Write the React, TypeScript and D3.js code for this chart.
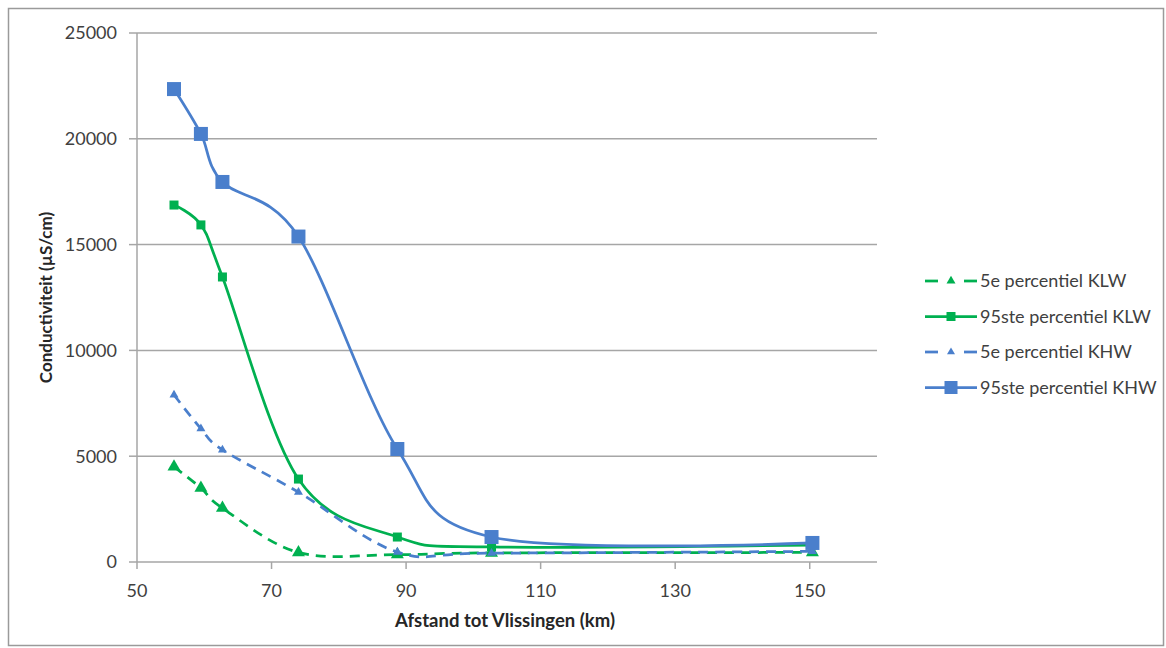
import React from "react";
import * as d3 from "d3";

const distances = [55.5, 59.5, 62.7, 74, 88.7, 102.7, 150.4];
const klw5 = [4500, 3500, 2550, 450, 350, 430, 450];
const klw95 = [16870, 15930, 13470, 3920, 1180, 710, 800];
const khw5 = [7900, 6300, 5300, 3300, 470, 420, 500];
const khw95 = [22350, 20230, 17960, 15380, 5340, 1180, 900];
const xTicks = [50, 70, 90, 110, 130, 150];
const yTicks = [0, 5000, 10000, 15000, 20000, 25000];
const seriesNames = ["5e percentiel KLW", "95ste percentiel KLW", "5e percentiel KHW", "95ste percentiel KHW"];

const GREEN = "#00b050";
const BLUE = "#4a7fcc";
const FONT = "Lato, 'Open Sans', sans-serif";

type Series = {
  name: string;
  values: number[];
  color: string;
  dashed: boolean;
  marker: "tri" | "sq";
  size: number;
  legendSize: number;
};

const series: Series[] = [
  { name: seriesNames[0], values: klw5, color: GREEN, dashed: true, marker: "tri", size: 13, legendSize: 9 },
  { name: seriesNames[1], values: klw95, color: GREEN, dashed: false, marker: "sq", size: 9, legendSize: 9 },
  { name: seriesNames[2], values: khw5, color: BLUE, dashed: true, marker: "tri", size: 9, legendSize: 8 },
  { name: seriesNames[3], values: khw95, color: BLUE, dashed: false, marker: "sq", size: 14, legendSize: 13 },
];

function Marker({ x, y, s, type, color }: { x: number; y: number; s: number; type: string; color: string }) {
  if (type === "sq") {
    return <rect x={x - s / 2} y={y - s / 2} width={s} height={s} fill={color} />;
  }
  const h = (s * Math.sqrt(3)) / 2;
  const d = `M${x},${y - (2 * h) / 3}L${x + s / 2},${y + h / 3}L${x - s / 2},${y + h / 3}Z`;
  return <path d={d} fill={color} />;
}

export default function App() {
  const x = d3.scaleLinear().domain([50, 160]).range([137, 877]);
  const y = d3.scaleLinear().domain([0, 25000]).range([562, 33]);
  const line = d3
    .line<[number, number]>()
    .x((d) => x(d[0]))
    .y((d) => y(d[1]))
    .curve(d3.curveCardinal.tension(0));

  const legendX = 925;
  const legendY0 = 281;
  const legendDy = 35.5;

  return (
    <svg
      width={1166}
      height={648}
      style={{ position: "absolute", left: 0, top: 0, display: "block", background: "#fff" }}
      fontFamily={FONT}
    >
      <rect x={8.5} y={8.5} width={1155} height={637} fill="#fff" stroke="#9a9a9a" strokeWidth={1.5} />
      {/* gridlines */}
      {yTicks.slice(1).map((t) => (
        <line key={t} x1={x(50)} x2={x(160)} y1={y(t)} y2={y(t)} stroke="#a6a6a6" strokeWidth={1.5} />
      ))}
      {/* y axis */}
      <line x1={x(50)} x2={x(50)} y1={y(25000)} y2={y(0)} stroke="#a6a6a6" strokeWidth={1.5} />
      {yTicks.map((t) => (
        <g key={t}>
          <line x1={x(50) - 8} x2={x(50)} y1={y(t)} y2={y(t)} stroke="#a6a6a6" strokeWidth={1.5} />
          <text x={117} y={y(t)} dy="0.35em" textAnchor="end" fontSize={18} fill="#404040">
            {t}
          </text>
        </g>
      ))}
      {/* x axis */}
      <line x1={x(50)} x2={x(160)} y1={y(0)} y2={y(0)} stroke="#a6a6a6" strokeWidth={1.5} />
      {xTicks.map((t) => (
        <g key={t}>
          <line x1={x(t)} x2={x(t)} y1={y(0)} y2={y(0) + 7} stroke="#a6a6a6" strokeWidth={1.5} />
          <text x={x(t)} y={597} textAnchor="middle" fontSize={18} fill="#404040">
            {t}
          </text>
        </g>
      ))}
      <text x={505} y={627} textAnchor="middle" fontSize={18.5} fontWeight="bold" fill="#262626">
        Afstand tot Vlissingen (km)
      </text>
      <text
        transform={`translate(52,${(y(0) + y(25000)) / 2}) rotate(-90)`}
        textAnchor="middle"
        fontSize={17}
        fontWeight="bold"
        fill="#262626"
      >
        Conductiviteit (µS/cm)
      </text>
      {/* series */}
      {series.map((s) => {
        const pts = distances.map((d, i) => [d, s.values[i]] as [number, number]);
        return (
          <g key={s.name}>
            <path
              d={line(pts) || ""}
              fill="none"
              stroke={s.color}
              strokeWidth={2.75}
              strokeDasharray={s.dashed ? "10,7" : undefined}
            />
            {pts.map((p, i) => (
              <Marker key={i} x={x(p[0])} y={y(p[1])} s={s.size} type={s.marker} color={s.color} />
            ))}
          </g>
        );
      })}
      {/* legend */}
      {series.map((s, i) => {
        const ly = legendY0 + i * legendDy;
        return (
          <g key={s.name}>
            {s.dashed ? (
              <>
                <line x1={legendX} x2={legendX + 13} y1={ly} y2={ly} stroke={s.color} strokeWidth={2.75} />
                <line x1={legendX + 39} x2={legendX + 52} y1={ly} y2={ly} stroke={s.color} strokeWidth={2.75} />
              </>
            ) : (
              <line x1={legendX} x2={legendX + 52} y1={ly} y2={ly} stroke={s.color} strokeWidth={2.75} />
            )}
            <Marker x={legendX + 26} y={ly} s={s.legendSize} type={s.marker} color={s.color} />
            <text x={legendX + 55} y={ly} dy="0.35em" fontSize={18} fill="#404040">
              {s.name}
            </text>
          </g>
        );
      })}
    </svg>
  );
}
